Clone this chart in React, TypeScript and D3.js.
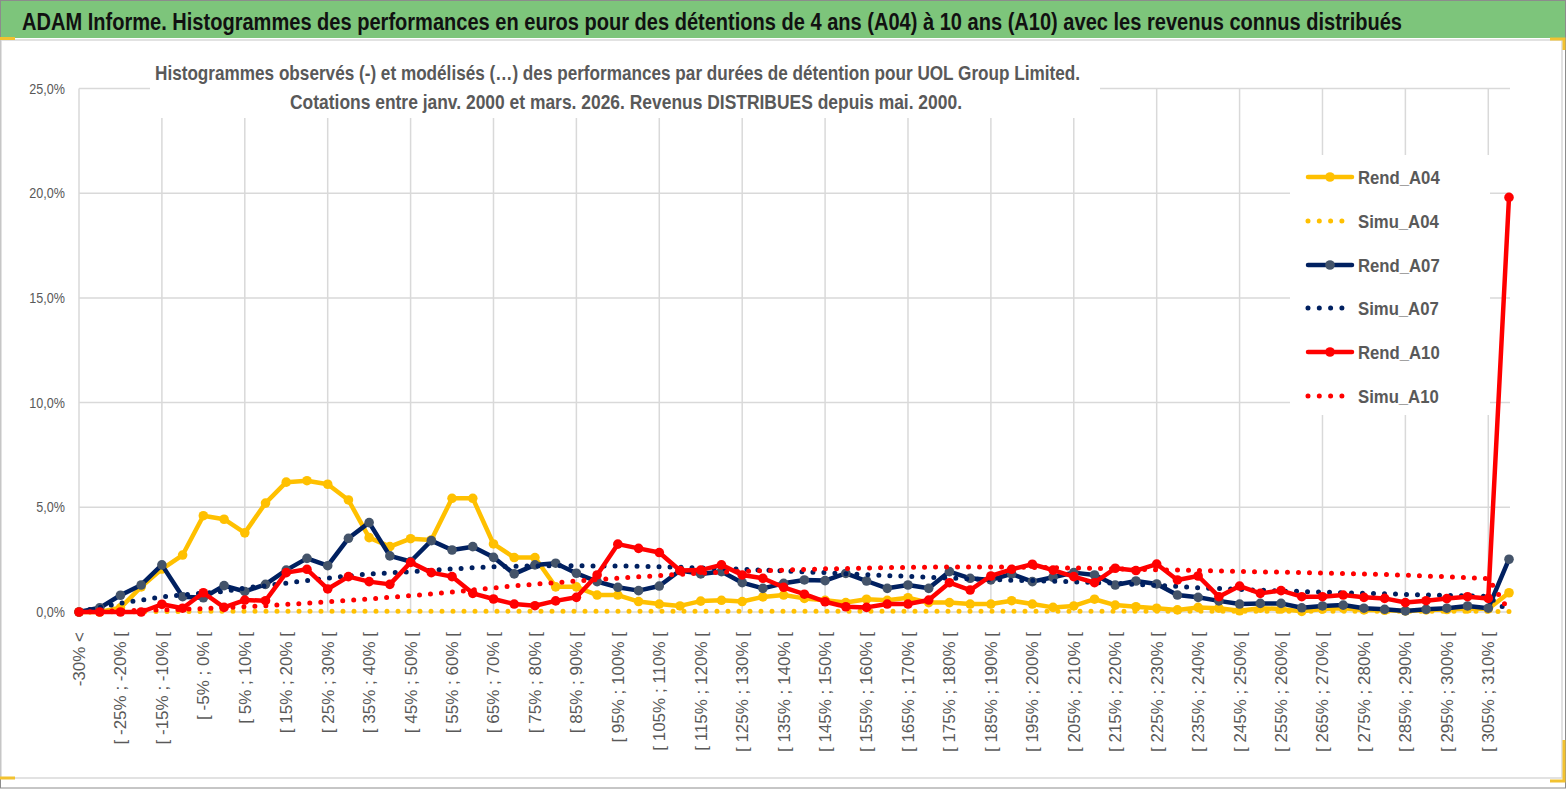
import React from 'react';
import * as d3 from 'd3';

const categories: string[] = [
  '-30% <', '[ -30% ; -25% [', '[ -25% ; -20% [', '[ -20% ; -15% [', '[ -15% ; -10% [', '[ -10% ; -5% [',
  '[ -5% ; 0% [', '[ 0% ; 5% [', '[ 5% ; 10% [', '[ 10% ; 15% [', '[ 15% ; 20% [', '[ 20% ; 25% [',
  '[ 25% ; 30% [', '[ 30% ; 35% [', '[ 35% ; 40% [', '[ 40% ; 45% [', '[ 45% ; 50% [', '[ 50% ; 55% [',
  '[ 55% ; 60% [', '[ 60% ; 65% [', '[ 65% ; 70% [', '[ 70% ; 75% [', '[ 75% ; 80% [', '[ 80% ; 85% [',
  '[ 85% ; 90% [', '[ 90% ; 95% [', '[ 95% ; 100% [', '[ 100% ; 105% [', '[ 105% ; 110% [', '[ 110% ; 115% [',
  '[ 115% ; 120% [', '[ 120% ; 125% [', '[ 125% ; 130% [', '[ 130% ; 135% [', '[ 135% ; 140% [', '[ 140% ; 145% [',
  '[ 145% ; 150% [', '[ 150% ; 155% [', '[ 155% ; 160% [', '[ 160% ; 165% [', '[ 165% ; 170% [', '[ 170% ; 175% [',
  '[ 175% ; 180% [', '[ 180% ; 185% [', '[ 185% ; 190% [', '[ 190% ; 195% [', '[ 195% ; 200% [', '[ 200% ; 205% [',
  '[ 205% ; 210% [', '[ 210% ; 215% [', '[ 215% ; 220% [', '[ 220% ; 225% [', '[ 225% ; 230% [', '[ 230% ; 235% [',
  '[ 235% ; 240% [', '[ 240% ; 245% [', '[ 245% ; 250% [', '[ 250% ; 255% [', '[ 255% ; 260% [', '[ 260% ; 265% [',
  '[ 265% ; 270% [', '[ 270% ; 275% [', '[ 275% ; 280% [', '[ 280% ; 285% [', '[ 285% ; 290% [', '[ 290% ; 295% [',
  '[ 295% ; 300% [', '[ 300% ; 305% [', '[ 305% ; 310% [', '> 310%',
];

// values in %
const rendA04 = [
  0, 0, 0.2, 1.2, 2.05, 2.72, 4.6, 4.43, 3.78, 5.2, 6.2, 6.27, 6.1, 5.35, 3.55, 3.12, 3.5, 3.44, 5.43, 5.43,
  3.25, 2.6, 2.6, 1.2, 1.2, 0.81, 0.81, 0.5, 0.38, 0.29, 0.52, 0.56, 0.5, 0.72, 0.81, 0.65, 0.56, 0.45, 0.61, 0.56,
  0.68, 0.45, 0.45, 0.38, 0.38, 0.54, 0.38, 0.22, 0.29, 0.61, 0.33, 0.25, 0.18, 0.1, 0.22, 0.18, 0.06, 0.18, 0.14, 0.03,
  0.14, 0.18, 0.1, 0.08, 0.05, 0.1, 0.12, 0.15, 0.15, 0.92,
];
const simuA04 = [
  0, 0.01, 0.01, 0.02, 0.02, 0.02, 0.03, 0.03, 0.03, 0.03, 0.03, 0.03, 0.03, 0.03, 0.03, 0.03, 0.03, 0.03, 0.03, 0.03,
  0.03, 0.03, 0.03, 0.03, 0.03, 0.03, 0.03, 0.03, 0.03, 0.03, 0.03, 0.03, 0.03, 0.03, 0.03, 0.03, 0.03, 0.03, 0.03, 0.03,
  0.03, 0.03, 0.03, 0.03, 0.03, 0.03, 0.03, 0.03, 0.03, 0.03, 0.03, 0.03, 0.03, 0.03, 0.03, 0.03, 0.03, 0.03, 0.03, 0.03,
  0.03, 0.03, 0.03, 0.03, 0.03, 0.03, 0.03, 0.03, 0.03, 0.02,
];
const rendA07 = [
  0, 0.2, 0.8, 1.29, 2.25, 0.73, 0.68, 1.26, 0.98, 1.32, 2.0, 2.56, 2.21, 3.52, 4.27, 2.68, 2.41, 3.41, 2.96, 3.12,
  2.61, 1.82, 2.25, 2.33, 1.85, 1.45, 1.18, 1.02, 1.24, 1.98, 1.82, 1.93, 1.4, 1.13, 1.37, 1.53, 1.5, 1.84, 1.48, 1.13,
  1.29, 1.13, 1.93, 1.61, 1.53, 1.82, 1.45, 1.66, 1.88, 1.77, 1.29, 1.48, 1.34, 0.81, 0.7, 0.53, 0.38, 0.41, 0.41, 0.2,
  0.29, 0.33, 0.18, 0.13, 0.05, 0.13, 0.18, 0.29, 0.18, 2.52,
];
const simuA07 = [
  0, 0.22, 0.42, 0.57, 0.72, 0.82, 0.9, 0.98, 1.15, 1.25, 1.38, 1.5, 1.62, 1.72, 1.82, 1.87, 1.92, 2.0, 2.06, 2.11,
  2.16, 2.18, 2.2, 2.21, 2.21, 2.2, 2.2, 2.18, 2.16, 2.14, 2.1, 2.07, 2.04, 2.0, 1.96, 1.92, 1.88, 1.83, 1.78, 1.74,
  1.7, 1.66, 1.62, 1.58, 1.55, 1.52, 1.5, 1.47, 1.44, 1.41, 1.37, 1.32, 1.27, 1.22, 1.16, 1.12, 1.08, 1.04, 1.0, 0.98,
  0.95, 0.92, 0.9, 0.87, 0.84, 0.81, 0.79, 0.77, 0.74, 0.02,
];
const rendA10 = [
  0, 0, 0, 0, 0.37, 0.18, 0.92, 0.22, 0.57, 0.54, 1.88, 2.04, 1.1, 1.69, 1.45, 1.32, 2.37, 1.88, 1.69, 0.89,
  0.62, 0.38, 0.3, 0.53, 0.7, 1.77, 3.24, 3.04, 2.84, 1.98, 2.0, 2.25, 1.77, 1.61, 1.18, 0.85, 0.49, 0.25, 0.22, 0.38,
  0.38, 0.57, 1.4, 1.05, 1.72, 2.04, 2.28, 2.0, 1.69, 1.4, 2.09, 1.98, 2.29, 1.53, 1.72, 0.73, 1.24, 0.89, 1.02, 0.73,
  0.73, 0.81, 0.7, 0.65, 0.45, 0.54, 0.64, 0.73, 0.65, 19.8,
];
const simuA10 = [
  0, 0.03, 0.05, 0.08, 0.1, 0.13, 0.16, 0.2, 0.25, 0.3, 0.36, 0.42, 0.49, 0.55, 0.62, 0.7, 0.78, 0.86, 0.95, 1.05,
  1.15, 1.25, 1.33, 1.4, 1.48, 1.55, 1.62, 1.68, 1.74, 1.8, 1.85, 1.9, 1.94, 1.97, 2.0, 2.03, 2.06, 2.08, 2.1, 2.12,
  2.13, 2.14, 2.15, 2.15, 2.15, 2.14, 2.13, 2.12, 2.1, 2.08, 2.06, 2.04, 2.02, 2.0, 1.98, 1.96, 1.94, 1.92, 1.9, 1.88,
  1.86, 1.84, 1.82, 1.79, 1.76, 1.72, 1.68, 1.64, 1.6, 0.05,
];

const yTicks = [0, 5, 10, 15, 20, 25];

const seriesNames = ['Rend_A04', 'Simu_A04', 'Rend_A07', 'Simu_A07', 'Rend_A10', 'Simu_A10'];

const FONT = "'Liberation Sans', Arial, sans-serif";
const GRID = '#d9d9d9';
const TXT = '#595959';

const YELLOW = '#FFC000';
const NAVY = '#002060';
const NAVY_MK = '#44546A';
const RED = '#FF0000';

const App: React.FC = () => {
  const W = 1567;
  const H = 789;

  const x = d3.scalePoint<string>().domain(categories).range([79, 1509]);
  const y = d3.scaleLinear().domain([0, 25]).range([612, 88.5]);

  const line = d3
    .line<number>()
    .x((d, i) => x(categories[i])!)
    .y(d => y(d));

  const series = [
    { name: seriesNames[0], data: rendA04, color: YELLOW, marker: YELLOW, dotted: false },
    { name: seriesNames[1], data: simuA04, color: YELLOW, marker: YELLOW, dotted: true },
    { name: seriesNames[2], data: rendA07, color: NAVY, marker: NAVY_MK, dotted: false },
    { name: seriesNames[3], data: simuA07, color: NAVY, marker: NAVY_MK, dotted: true },
    { name: seriesNames[4], data: rendA10, color: RED, marker: RED, dotted: false },
    { name: seriesNames[5], data: simuA10, color: RED, marker: RED, dotted: true },
  ];

  const legendY = [177, 221, 265, 308, 352, 396];

  // narrow look (Calibri-like) via horizontal squeeze
  const SX = 0.835;
  const SUB = 0.82;

  return (
    <svg
      width={W}
      height={H}
      style={{ position: 'absolute', left: 0, top: 0, display: 'block' }}
      fontFamily={FONT}
    >
      {/* frame */}
      <rect x={0.5} y={0.5} width={W - 2} height={H - 1.5} fill="#fff" stroke="#8c8c8c" />
      <rect x={1} y={1} width={W - 3} height={37} fill="#7dc57b" />
      <rect x={1} y={40} width={1561} height={738} fill="none" stroke={GRID} strokeWidth={1.5} />
      <path d="M0,38.5H15 M1550,39H1564V50 M1564,740V781H1550 M0,778H15" fill="none" stroke="#f2c230" strokeWidth={3} />

      <text
        transform={`translate(22,30) scale(${SX},1)`}
        fontSize={24}
        fontWeight="bold"
        fill="#111"
        textLength={1380 / SX}
        lengthAdjust="spacingAndGlyphs"
      >
        ADAM Informe. Histogrammes des performances en euros pour des détentions de 4 ans (A04) à 10 ans (A10) avec les revenus connus distribués
      </text>

      {/* grid */}
      {yTicks.map(t => (
        <line key={`h${t}`} x1={79} x2={1510} y1={y(t)} y2={y(t)} stroke={GRID} strokeWidth={1.5} />
      ))}
      {categories.map((c, i) =>
        i % 4 === 0 ? (
          <line key={`v${i}`} x1={x(c)} x2={x(c)} y1={y(25)} y2={y(0)} stroke={GRID} strokeWidth={1.5} />
        ) : null
      )}

      {/* y labels */}
      {yTicks.map(t => (
        <text
          key={`yl${t}`}
          transform={`translate(65,${y(t) + 5}) scale(0.84,1)`}
          textAnchor="end"
          fontSize={15}
          fill={TXT}
        >
          {t.toFixed(1).replace('.', ',')}%
        </text>
      ))}

      {/* x labels */}
      {categories.map((c, i) =>
        i % 2 === 0 ? (
          <text
            key={`xl${i}`}
            transform={`translate(${x(c)},632) rotate(-90)`}
            textAnchor="end"
            dy="0.35em"
            fontSize={17}
            fill={TXT}
          >
            {c}
          </text>
        ) : null
      )}

      {/* subtitle box */}
      <rect x={150} y={58} width={950} height={60} fill="#fff" />
      <text
        transform={`translate(155,80) scale(${SUB},1)`}
        fontSize={20}
        fontWeight="bold"
        fill={TXT}
        textLength={925 / SUB}
        lengthAdjust="spacingAndGlyphs"
      >
        Histogrammes observés (-) et modélisés (…)  des performances par durées de détention pour UOL Group Limited.
      </text>
      <text
        transform={`translate(290,109) scale(${SUB},1)`}
        fontSize={20}
        fontWeight="bold"
        fill={TXT}
        textLength={672 / SUB}
        lengthAdjust="spacingAndGlyphs"
      >
        Cotations entre janv. 2000 et mars. 2026. Revenus DISTRIBUES depuis mai. 2000.
      </text>

      {/* legend box */}
      <rect x={1290} y={155} width={200} height={260} fill="#fff" />

      {/* series */}
      {series.map(s => (
        <g key={s.name}>
          <path
            d={line(s.data)!}
            fill="none"
            stroke={s.color}
            strokeWidth={s.dotted ? 5 : 4.5}
            strokeLinejoin="round"
            strokeLinecap="round"
            strokeDasharray={s.dotted ? '0 11' : undefined}
          />
          {!s.dotted &&
            s.data.map((d, i) => (
              <circle key={i} cx={x(categories[i])} cy={y(d)} r={4.8} fill={s.marker} />
            ))}
        </g>
      ))}

      {/* legend */}
      {series.map((s, k) => (
        <g key={`lg${s.name}`}>
          {s.dotted ? (
            <line x1={1308} x2={1346} y1={legendY[k]} y2={legendY[k]} stroke={s.color} strokeWidth={5} strokeLinecap="round" strokeDasharray="0 11.3" />
          ) : (
            <>
              <line x1={1308} x2={1352} y1={legendY[k]} y2={legendY[k]} stroke={s.color} strokeWidth={4.5} strokeLinecap="round" />
              <circle cx={1330} cy={legendY[k]} r={4.8} fill={s.marker} />
            </>
          )}
          <text
            transform={`translate(1358,${legendY[k] + 7}) scale(0.88,1)`}
            fontSize={19}
            fontWeight="bold"
            fill={TXT}
          >
            {s.name}
          </text>
        </g>
      ))}
    </svg>
  );
};

export default App;
